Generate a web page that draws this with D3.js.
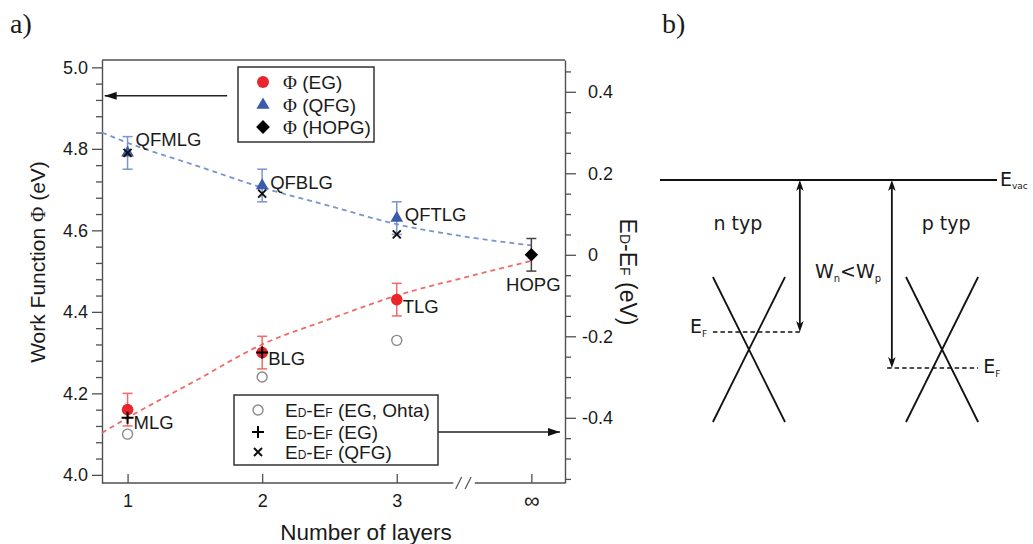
<!DOCTYPE html>
<html><head><meta charset="utf-8">
<script src="https://cdn.jsdelivr.net/npm/d3@7"></script>
<style>
body{margin:0;background:#fff}
svg{display:block}
text{font-family:"Liberation Sans",Arial,sans-serif;fill:#1a1a1a}
</style>
</head><body>
<svg id="c" width="1033" height="544"></svg>
<script>
// ---------------- data (panel a) ----------------
const layers = [1, 2, 3, 4];
const layerLabels = ["1", "2", "3", "∞"];
const egLayers = [1, 2, 3];
const phiEG = [4.16, 4.30, 4.43];
const errEG = [0.04, 0.04, 0.04];
const egNames = ["MLG", "BLG", "TLG"];
const qfgLayers = [1, 2, 3];
const phiQFG = [4.79, 4.71, 4.63];
const errQFG = [0.04, 0.04, 0.04];
const qfgNames = ["QFMLG", "QFBLG", "QFTLG"];
const hopgLayers = [4];
const phiHOPG = [4.54];
const errHOPG = [0.04];
const hopgNames = ["HOPG"];
const ohtaLayers = [1, 2, 3];
const edOhta = [-0.44, -0.30, -0.21];
const edEGLayers = [1, 2];
const edEG = [-0.40, -0.24];
const edQFGLayers = [1, 2, 3];
const edQFG = [0.25, 0.15, 0.05];
const fitX = [0.81, 1, 1.5, 2, 2.5, 3, 3.5, 4];
const fitQFG = [4.84, 4.815, 4.76, 4.705, 4.66, 4.615, 4.585, 4.563];
const fitEG = [4.103, 4.14, 4.23, 4.32, 4.382, 4.44, 4.484, 4.525];
const leftTicks = [4.0, 4.2, 4.4, 4.6, 4.8, 5.0];
const leftMinor = [4.04,4.08,4.12,4.16,4.24,4.28,4.32,4.36,4.44,4.48,4.52,4.56,4.64,4.68,4.72,4.76,4.84,4.88,4.92,4.96];
const rightTicks = [-0.4, -0.2, 0, 0.2, 0.4];
const rightMinor = [-0.55,-0.5,-0.45,-0.35,-0.3,-0.25,-0.15,-0.1,-0.05,0.05,0.1,0.15,0.25,0.3,0.35,0.45];
const hopgOffset = 4.54;   // E_D-E_F axis zero = HOPG work function
const arrowLeft = {y: 4.93, from: 1.74, to: 0.83};
const arrowRight = {y: -0.435, from: 3.306, to: 4.213};
const legend1 = ["(EG)", "(QFG)", "(HOPG)"];
const legend2 = ["(EG, Ohta)", "(EG)", "(QFG)"];

// ---------------- data (panel b) ----------------
const evacLevel = 0;
const bandNames = ["n typ", "p typ"];
const bandCenters = [0.264, 0.837];
const bandLabelX = [0.231, 0.849];
const diracLevels = [-0.678, -0.678];
const fermiLevels = [-0.608, -0.752];
const fermiFrom = [0.157, 0.674];
const fermiTo = [0.424, 0.944];
const wfArrowX = [0.415, 0.688];
const coneHalfWidth = 0.107;
const coneTop = -0.388, coneBottom = -0.968;

const RED = "#e8262c", RED_L = "#f06a6a", BLUE = "#3b5ba8", BLUE_L = "#7a94d2";

const svg = d3.select("#c");

// ---------------- scales ----------------
const x = d3.scaleLinear().domain([0.81, 4.25]).range([102, 565]);
const yL = d3.scaleLinear().domain([3.98, 5.018]).range([483, 60]);
const yR = d3.scaleLinear().domain([3.98 - hopgOffset, 5.018 - hopgOffset]).range([483, 60]);

const AX = "#505050";
const g = svg.append("g");

// frame top
g.append("line").attr("x1", x(0.81)).attr("x2", x(4.25)).attr("y1", yL(5.018)).attr("y2", yL(5.018))
  .attr("stroke", AX).attr("stroke-width", 1.4);

// left axis
const la = g.append("g").attr("transform", `translate(${x(0.81)},0)`)
  .call(d3.axisLeft(yL).tickValues(leftTicks).tickFormat(d3.format(".1f")).tickSize(10).tickSizeOuter(0).tickPadding(4));
g.append("g").attr("transform", `translate(${x(0.81)},0)`)
  .call(d3.axisLeft(yL).tickValues(leftMinor).tickFormat("").tickSize(6).tickSizeOuter(0))
  .select(".domain").remove();
// right axis
const ra = g.append("g").attr("transform", `translate(${x(4.25)},0)`)
  .call(d3.axisRight(yR).tickValues(rightTicks).tickFormat(d => d === 0 ? "0" : d.toFixed(1)).tickSize(11).tickSizeOuter(0).tickPadding(12));
ra.selectAll(".tick text").attr("dx", d => d < 0 ? -6 : 0);
g.append("g").attr("transform", `translate(${x(4.25)},0)`)
  .call(d3.axisRight(yR).tickValues(rightMinor).tickFormat("").tickSize(6).tickSizeOuter(0))
  .select(".domain").remove();
// bottom axis
const ba = g.append("g").attr("transform", `translate(0,${yL(3.98)})`)
  .call(d3.axisBottom(x).tickValues(layers).tickFormat((d, i) => layerLabels[i]).tickSize(-9).tickSizeOuter(0).tickPadding(11));
ba.select(".domain").remove();
g.append("line").attr("x1", x(0.81)).attr("x2", x(3.42)).attr("y1", yL(3.98)).attr("y2", yL(3.98)).attr("stroke", AX).attr("stroke-width", 1.4);
g.append("line").attr("x1", x(3.58)).attr("x2", x(4.25)).attr("y1", yL(3.98)).attr("y2", yL(3.98)).attr("stroke", AX).attr("stroke-width", 1.4);
[3.46, 3.53].forEach(v => {
  g.append("line").attr("x1", x(v) - 3).attr("x2", x(v) + 3).attr("y1", yL(3.98) + 6).attr("y2", yL(3.98) - 6)
    .attr("stroke", AX).attr("stroke-width", 1.2);
});

[la, ra, ba].forEach(a => {
  a.selectAll(".domain").attr("stroke", AX).attr("stroke-width", 1.4);
  a.selectAll(".tick text").style("font-size", "18px").style("font-family", '"Liberation Sans",Arial,sans-serif').attr("fill", "#222");
});
ba.selectAll(".tick text").filter((d, i) => i === 3).style("font-size", "22px").attr("dy", "0.62em");
g.selectAll(".tick line").attr("stroke", AX).attr("stroke-width", 1.3);

// axis titles
svg.append("text").attr("x", 366).attr("y", 540).attr("text-anchor", "middle").style("font-size", "22.5px").text("Number of layers");
const lt = svg.append("text").attr("transform", "translate(45,262) rotate(-90)").attr("text-anchor", "middle").style("font-size", "21px");
lt.append("tspan").text("Work Function ");
lt.append("tspan").style("font-family", '"Liberation Serif",serif').text("Φ");
lt.append("tspan").text(" (eV)");
const rt = svg.append("text").attr("transform", "translate(620,272) rotate(90)").attr("text-anchor", "middle").style("font-size", "23px");
rt.append("tspan").text("E");
rt.append("tspan").style("font-size", "14px").text("D");
rt.append("tspan").text("-E");
rt.append("tspan").style("font-size", "14px").text("F");
rt.append("tspan").text(" (eV)");

// fit lines
const fitLine = d3.line().x((d, i) => x(fitX[i])).y(d => yL(d)).curve(d3.curveMonotoneX);
svg.append("path").attr("d", fitLine(fitQFG)).attr("fill", "none").attr("stroke", BLUE_L).attr("stroke-width", 1.8).attr("stroke-dasharray", "5,4");
svg.append("path").attr("d", fitLine(fitEG)).attr("fill", "none").attr("stroke", RED_L).attr("stroke-width", 1.8).attr("stroke-dasharray", "5,4");

// error bars
function errBars(xs, vs, es, color) {
  xs.forEach((l, i) => {
    const cx = x(l), y1 = yL(vs[i] - es[i]), y2 = yL(vs[i] + es[i]);
    svg.append("line").attr("x1", cx).attr("x2", cx).attr("y1", y1).attr("y2", y2).attr("stroke", color).attr("stroke-width", 1.5);
    [y1, y2].forEach(yy => svg.append("line").attr("x1", cx - 5).attr("x2", cx + 5).attr("y1", yy).attr("y2", yy).attr("stroke", color).attr("stroke-width", 1.5));
  });
}
errBars(egLayers, phiEG, errEG, RED_L);
errBars(qfgLayers, phiQFG, errQFG, BLUE_L);
errBars(hopgLayers, phiHOPG, errHOPG, "#444");

// Ohta open circles
ohtaLayers.forEach((l, i) => svg.append("circle").attr("cx", x(l)).attr("cy", yR(edOhta[i])).attr("r", 5).attr("fill", "none").attr("stroke", "#8a8a8a").attr("stroke-width", 1.4));
// EG circles
egLayers.forEach((l, i) => svg.append("circle").attr("cx", x(l)).attr("cy", yL(phiEG[i])).attr("r", 5.8).attr("fill", RED));
// QFG triangles
qfgLayers.forEach((l, i) => svg.append("path").attr("d", d3.symbol(d3.symbolTriangle, 70)()).attr("transform", `translate(${x(l)},${yL(phiQFG[i])})`).attr("fill", BLUE));
// HOPG diamond
hopgLayers.forEach((l, i) => svg.append("path").attr("d", d3.symbol(d3.symbolSquare, 90)()).attr("transform", `translate(${x(l)},${yL(phiHOPG[i])}) rotate(45)`).attr("fill", "#000"));
// plus markers
function plusPath(s) { return `M${-s},0H${s}M0,${-s}V${s}`; }
function crossPath(s) { return `M${-s},${-s}L${s},${s}M${-s},${s}L${s},${-s}`; }
edEGLayers.forEach((l, i) => svg.append("path").attr("d", plusPath(6)).attr("transform", `translate(${x(l)},${yR(edEG[i])})`).attr("stroke", "#000").attr("stroke-width", 2));
edQFGLayers.forEach((l, i) => svg.append("path").attr("d", crossPath(4)).attr("transform", `translate(${x(l)},${yR(edQFG[i])})`).attr("stroke", "#111").attr("stroke-width", 2));

// point labels
const lblFont = "18.5px";
const qfgDy = [-13, -3, -4];
qfgLayers.forEach((l, i) => svg.append("text").attr("x", x(l) + 8).attr("y", yL(phiQFG[i]) + qfgDy[i]).attr("dy", "0.35em").style("font-size", lblFont).text(qfgNames[i]));
egLayers.forEach((l, i) => svg.append("text").attr("x", x(l) + 6).attr("y", yL(phiEG[i]) + [13, 6, 7][i]).attr("dy", "0.35em").style("font-size", lblFont).text(egNames[i]));
hopgLayers.forEach((l, i) => svg.append("text").attr("x", x(l) + 2).attr("y", yL(phiHOPG[i]) + 30).attr("dy", "0.35em").attr("text-anchor", "middle").style("font-size", lblFont).text(hopgNames[i]));

// arrows in panel a
svg.append("defs").append("marker").attr("id", "ah").attr("viewBox", "0 0 12 8").attr("refX", 12).attr("refY", 4)
  .attr("markerWidth", 12).attr("markerHeight", 8).attr("markerUnits", "userSpaceOnUse").attr("orient", "auto")
  .append("path").attr("d", "M0,0L12,4L0,8Z").attr("fill", "#111");
svg.append("line").attr("x1", x(arrowLeft.from)).attr("x2", x(arrowLeft.to)).attr("y1", yL(arrowLeft.y)).attr("y2", yL(arrowLeft.y))
  .attr("stroke", "#222").attr("stroke-width", 1.5).attr("marker-end", "url(#ah)");
svg.append("line").attr("x1", x(arrowRight.from)).attr("x2", x(arrowRight.to)).attr("y1", yR(arrowRight.y)).attr("y2", yR(arrowRight.y))
  .attr("stroke", "#222").attr("stroke-width", 1.5).attr("marker-end", "url(#ah)");

// legend 1
const L1 = svg.append("g");
L1.append("rect").attr("x", 238).attr("y", 67).attr("width", 136).attr("height", 75).attr("fill", "#fff").attr("stroke", "#333").attr("stroke-width", 1.5);
const l1y = [82, 105, 127];
L1.append("circle").attr("cx", 263).attr("cy", l1y[0]).attr("r", 6).attr("fill", RED);
L1.append("path").attr("d", d3.symbol(d3.symbolTriangle, 75)()).attr("transform", `translate(263,${l1y[1]})`).attr("fill", BLUE);
L1.append("path").attr("d", d3.symbol(d3.symbolSquare, 95)()).attr("transform", `translate(263,${l1y[2]}) rotate(45)`).attr("fill", "#000");
legend1.forEach((t, i) => {
  const tx = L1.append("text").attr("x", 283).attr("y", l1y[i]).attr("dy", "0.35em").style("font-size", "19px");
  tx.append("tspan").style("font-family", '"Liberation Serif",serif').text("Φ");
  tx.append("tspan").text(" " + t);
});

// legend 2
const L2 = svg.append("g");
L2.append("rect").attr("x", 234).attr("y", 395).attr("width", 204).attr("height", 70).attr("fill", "#fff").attr("stroke", "#333").attr("stroke-width", 1.5);
const l2y = [410, 432, 452];
L2.append("circle").attr("cx", 258).attr("cy", l2y[0]).attr("r", 5).attr("fill", "none").attr("stroke", "#8a8a8a").attr("stroke-width", 1.4);
L2.append("path").attr("d", plusPath(6)).attr("transform", `translate(258,${l2y[1]})`).attr("stroke", "#000").attr("stroke-width", 2);
L2.append("path").attr("d", crossPath(4)).attr("transform", `translate(258,${l2y[2]})`).attr("stroke", "#111").attr("stroke-width", 2);
legend2.forEach((t, i) => {
  const tx = L2.append("text").attr("x", 285).attr("y", l2y[i]).attr("dy", "0.35em").style("font-size", "19px");
  tx.append("tspan").text("E");
  tx.append("tspan").style("font-size", "12px").text("D");
  tx.append("tspan").text("-E");
  tx.append("tspan").style("font-size", "12px").text("F");
  tx.append("tspan").text(" " + t);
});

// panel labels
svg.append("text").attr("x", 10).attr("y", 33).style("font-family", '"Liberation Serif",serif').style("font-size", "28px").text("a)");
svg.append("text").attr("x", 662).attr("y", 33).style("font-family", '"Liberation Serif",serif').style("font-size", "28px").text("b)");

// ---------------- panel b ----------------
const xB = d3.scaleLinear().domain([0, 1]).range([660, 997]);
const yB = d3.scaleLinear().domain([0, -1]).range([180, 430]);
const B = svg.append("g");
const BF = '"DejaVu Sans",Verdana,sans-serif';
const LC = "#111";
B.append("line").attr("x1", xB(0)).attr("x2", xB(1)).attr("y1", yB(evacLevel)).attr("y2", yB(evacLevel)).attr("stroke", LC).attr("stroke-width", 2.2);
const ev = B.append("text").attr("x", xB(1) + 3).attr("y", yB(evacLevel) + 6).style("font-family", BF).style("font-size", "19px").attr("fill", "#222");
ev.append("tspan").text("E");
ev.append("tspan").attr("dy", 3).style("font-size", "9px").text("vac");

function headPath(up) {
  return up ? "M0,0L-3.8,11L0,8L3.8,11Z" : "M0,0L-3.8,-11L0,-8L3.8,-11Z";
}
bandNames.forEach((name, i) => {
  const c = bandCenters[i];
  // Dirac cone
  B.append("line").attr("x1", xB(c - coneHalfWidth)).attr("y1", yB(coneTop)).attr("x2", xB(c + coneHalfWidth)).attr("y2", yB(coneBottom)).attr("stroke", LC).attr("stroke-width", 1.8);
  B.append("line").attr("x1", xB(c + coneHalfWidth)).attr("y1", yB(coneTop)).attr("x2", xB(c - coneHalfWidth)).attr("y2", yB(coneBottom)).attr("stroke", LC).attr("stroke-width", 1.8);
  // Fermi level
  B.append("line").attr("x1", xB(fermiFrom[i])).attr("x2", xB(fermiTo[i])).attr("y1", yB(fermiLevels[i])).attr("y2", yB(fermiLevels[i]))
    .attr("stroke", LC).attr("stroke-width", 1.6).attr("stroke-dasharray", "4.5,3");
  // work function arrow
  const ax = xB(wfArrowX[i]);
  B.append("line").attr("x1", ax).attr("x2", ax).attr("y1", yB(evacLevel) + 6).attr("y2", yB(fermiLevels[i]) - 6).attr("stroke", LC).attr("stroke-width", 1.8);
  B.append("path").attr("d", headPath(true)).attr("transform", `translate(${ax},${yB(evacLevel)})`).attr("fill", LC);
  B.append("path").attr("d", headPath(false)).attr("transform", `translate(${ax},${yB(fermiLevels[i])})`).attr("fill", LC);
  // type label
  B.append("text").attr("x", xB(bandLabelX[i])).attr("y", yB(-0.2)).attr("text-anchor", "middle").style("font-family", BF).style("font-size", "19px").attr("fill", "#222").text(name);
  // E_F label
  const left = i === 0;
  const ef = B.append("text").attr("x", left ? xB(fermiFrom[i]) - 23 : xB(fermiTo[i]) + 5).attr("y", yB(fermiLevels[i]) + (left ? 1 : 5))
    .style("font-family", BF).style("font-size", "19px").attr("fill", "#222");
  ef.append("tspan").text("E");
  ef.append("tspan").attr("dy", 4).style("font-size", "9px").text("F");
});
const wt = B.append("text").attr("x", xB(0.558)).attr("y", yB(-0.392)).attr("text-anchor", "middle").style("font-family", BF).style("font-size", "19px").attr("fill", "#222");
wt.append("tspan").text("W");
wt.append("tspan").attr("dy", 4).style("font-size", "10px").text("n");
wt.append("tspan").attr("dy", -4).text("<W");
wt.append("tspan").attr("dy", 4).style("font-size", "10px").text("p");
</script>
</body></html>
